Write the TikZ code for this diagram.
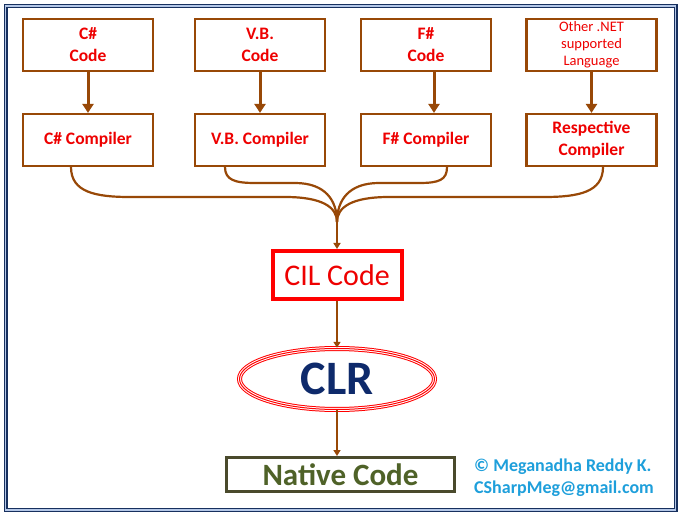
\documentclass[tikz,border=0pt]{standalone}
\usepackage{fontspec}
\setmainfont{Carlito}
\usetikzlibrary{arrows.meta,shapes.geometric,calc}
\definecolor{brn}{HTML}{984807}
\definecolor{txtred}{HTML}{EE0000}
\definecolor{navy}{HTML}{0E2A6B}
\definecolor{olive}{HTML}{4F6228}
\definecolor{olivebd}{HTML}{4A4A2C}
\definecolor{credit}{HTML}{1E9FDB}
\definecolor{framenavy}{HTML}{17305E}
\definecolor{framelight}{HTML}{B4C7E7}
\tikzset{
  langbox/.style={draw=brn,line width=2.2pt,minimum width=130pt,minimum height=52pt,
    text=txtred,font=\fontsize{17.5}{22}\selectfont\bfseries,align=center,inner sep=1pt},
  bigarrow/.style={draw=brn,line width=3pt,-{Triangle[length=9pt,width=11pt]}},
  thinarrow/.style={draw=brn,line width=2pt,-{Triangle[length=6pt,width=7pt]}},
  curve/.style={draw=brn,line width=2.2pt}
}
\begin{document}
\begin{tikzpicture}[x=1pt,y=-1pt]
\useasboundingbox (0,0) rectangle (681,516);
\fill[white] (0,0) rectangle (681,516);
% frame
\draw[framenavy,line width=4pt] (5.5,6) rectangle (675.5,510);
\draw[framelight,line width=1.6pt] (5.5,6) rectangle (675.5,510);
% top row
\node[langbox] (cs) at (88,45) {C\#\\Code};
\node[langbox] (vb) at (260,45) {V.B.\\Code};
\node[langbox] (fs) at (426,45) {F\#\\Code};
\node[langbox,font=\fontsize{14.5}{17}\selectfont] (ot) at (591.5,45) {Other .NET\\supported\\Language};
% compilers
\node[langbox] (csc) at (88,140) {C\# Compiler};
\node[langbox] (vbc) at (260,140) {V.B. Compiler};
\node[langbox] (fsc) at (426,140) {F\# Compiler};
\node[langbox] (otc) at (591.5,140) {Respective\\Compiler};
\draw[bigarrow] (cs) -- (csc);
\draw[bigarrow] (vb) -- (vbc);
\draw[bigarrow] ([xshift=8pt]fs.south) -- ([xshift=8pt]fsc.north);
\draw[bigarrow] (ot) -- (otc);
% CIL
\node[draw=red,line width=4pt,minimum width=129pt,minimum height=48pt,text=txtred,
  font=\fontsize{30}{34}\selectfont] (cil) at (337,275) {CIL Code};
\coordinate (j) at (337,222);
\draw[curve] ([xshift=-17pt]csc.south) .. controls (71,192) and (95,197) .. (130,197) -- (285,197)
  .. controls (322,197) and (337,207) .. (j);
\draw[curve] ([xshift=-35pt]vbc.south) .. controls (225,180) and (235,183) .. (255,183) -- (295,183)
  .. controls (325,183) and (337,200) .. (j);
\draw[curve] ([xshift=21pt]fsc.south) .. controls (447,180) and (439,183) .. (419,183) -- (379,183)
  .. controls (349,183) and (337,200) .. (j);
\draw[curve] ([xshift=11.5pt]otc.south) .. controls (603,192) and (579,197) .. (544,197) -- (389,197)
  .. controls (352,197) and (337,207) .. (j);
\draw[thinarrow] (j) -- (cil.north);
% CLR
\node[ellipse,minimum width=196pt,minimum height=62pt,inner sep=0pt,text=navy,
  font=\fontsize{48}{52}\selectfont\bfseries] (clr) at (337,379) {CLR};
\draw[red,line width=5pt] (clr.center) ellipse [x radius=97.5pt,y radius=30.5pt];
\draw[white,line width=3pt] (clr.center) ellipse [x radius=97.5pt,y radius=30.5pt];
\draw[red,line width=1pt] (clr.center) ellipse [x radius=97.5pt,y radius=30.5pt];
\draw[thinarrow] (cil.south) -- (clr.north);
% native
\node[draw=olivebd,line width=3pt,minimum width=228pt,minimum height=34pt,text=olive,
  font=\fontsize{31}{34}\selectfont\bfseries,inner sep=0pt] (nat) at (340.5,474.5) {Native Code};
\draw[thinarrow] (clr.south) -- (clr.south |- nat.north);
% credit
\node[anchor=west,text=credit,font=\fontsize{18}{22}\selectfont\bfseries,align=left,inner sep=0pt]
  (cred) at (474,478) {© Meganadha Reddy K.\\CSharpMeg@gmail.com};
\end{tikzpicture}
\end{document}
